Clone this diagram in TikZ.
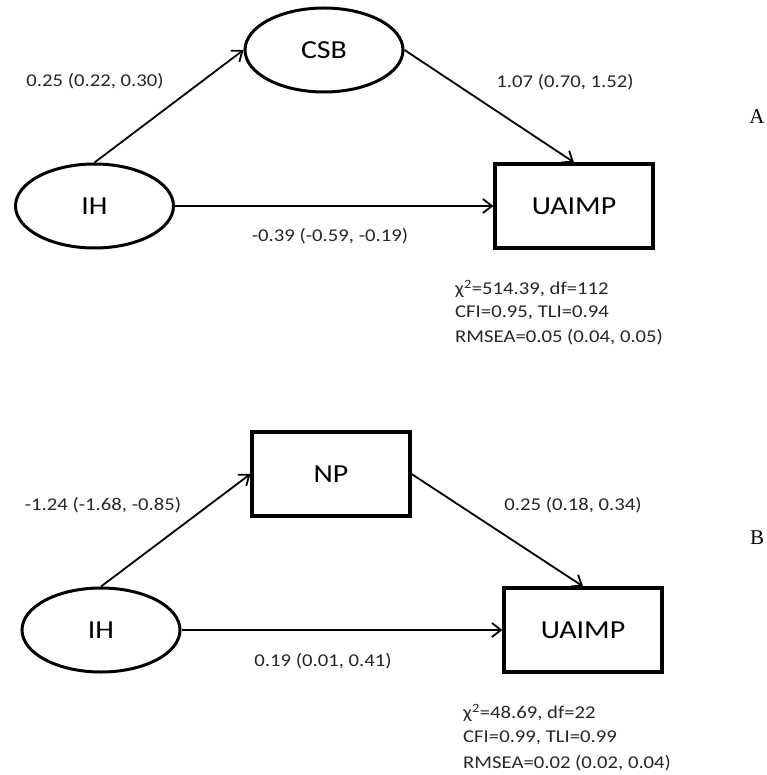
\documentclass[tikz,border=0pt]{standalone}
\usepackage{fontspec}
\usetikzlibrary{shapes.geometric,arrows.meta}
\newfontfamily\calfont[FakeStretch=1.15]{Carlito}
\newfontfamily\serfont{Liberation Serif}
\tikzset{
  latent/.style={ellipse,draw,line width=3pt,minimum width=158pt,minimum height=84pt,inner sep=0pt,font=\calfont\fontsize{26}{30}\selectfont},
  observed/.style={rectangle,draw,line width=3.2pt,minimum width=158pt,minimum height=84pt,inner sep=0pt,font=\calfont\fontsize{26}{30}\selectfont},
  path/.style={line width=1.8pt,-{Straight Barb[length=9pt,width=14pt,line width=1.8pt]}},
  coef/.style={inner sep=0pt,text=black!85,font=\calfont\fontsize{18}{21}\selectfont},
  fit/.style={inner sep=0pt,anchor=west,text=black!85,font=\calfont\fontsize{18}{21}\selectfont},
  panel/.style={inner sep=0pt,font=\serfont\fontsize{21}{24}\selectfont}
}
\begin{document}
\begin{tikzpicture}[x=1pt,y=-1pt]
\useasboundingbox (0,0) rectangle (766,775);
% Panel A
\node[latent] (csb) at (324,50) {CSB};
\node[latent] (ihA) at (94.5,206) {IH};
\node[observed] (uaA) at (574,206) {UAIMP};
\draw[path] (ihA.north) -- (csb.west);
\draw[path] (csb.east) -- (uaA.north);
\draw[path] (ihA.east) -- (uaA.west);
\node[coef] (cA1) at (95,81) {0.25 (0.22, 0.30)};
\node[coef] (cA2) at (565,82) {1.07 (0.70, 1.52)};
\node[coef] (cA3) at (330,236) {-0.39 (-0.59, -0.19)};
\node[panel] (pA) at (757,117) {A};
\node[fit] (fA1) at (455,289) {χ\textsuperscript{2}=514.39, df=112};
\node[fit] (fA2) at (455,313) {CFI=0.95, TLI=0.94};
\node[fit] (fA3) at (455,337) {RMSEA=0.05 (0.04, 0.05)};
% Panel B
\node[observed] (np) at (331,474) {NP};
\node[latent] (ihB) at (101,630) {IH};
\node[observed] (uaB) at (583,630) {UAIMP};
\draw[path] (ihB.north) -- (np.west);
\draw[path] (np.east) -- (uaB.north);
\draw[path] (ihB.east) -- (uaB.west);
\node[coef] (cB1) at (103,505) {-1.24 (-1.68, -0.85)};
\node[coef] (cB2) at (573,505) {0.25 (0.18, 0.34)};
\node[coef] (cB3) at (323,661) {0.19 (0.01, 0.41)};
\node[panel] (pB) at (757,538) {B};
\node[fit] (fB1) at (463,713) {χ\textsuperscript{2}=48.69, df=22};
\node[fit] (fB2) at (463,738) {CFI=0.99, TLI=0.99};
\node[fit] (fB3) at (463,763) {RMSEA=0.02 (0.02, 0.04)};
\end{tikzpicture}
\end{document}
